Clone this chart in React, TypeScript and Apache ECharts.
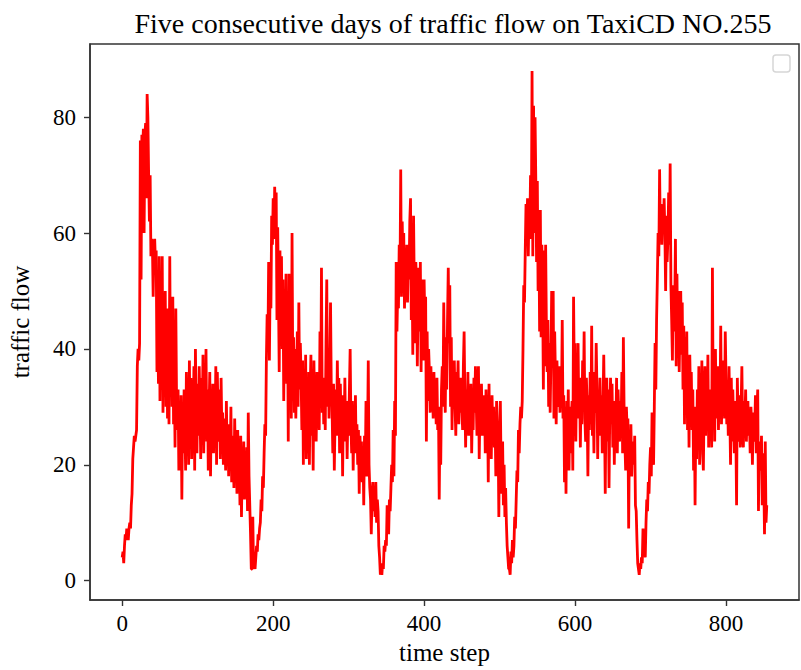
import React, { useEffect, useRef } from "react";
import * as echarts from "echarts";

// traffic flow per time step, one array per day
const day1 = [
  4, 5, 3, 6, 8, 7, 9, 8, 7, 9,
  10, 9, 13, 15, 21, 23, 25, 24, 25, 26,
  37, 40, 38, 41, 76, 52, 77, 74, 78, 60,
  77, 79, 66, 84, 80, 70, 62, 70, 56, 59,
  58, 49, 57, 59, 55, 57, 36, 45, 34, 56,
  31, 48, 40, 56, 29, 44, 35, 50, 30, 47,
  28, 38, 27, 56, 33, 45, 30, 49, 27, 35,
  23, 47, 31, 26, 33, 19, 31, 24, 32, 14,
  30, 22, 33, 27, 19, 36, 25, 33, 20, 38,
  24, 35, 21, 31, 27, 37, 19, 40, 28, 22,
  34, 25, 37, 30, 21, 35, 28, 39, 22, 32,
  26, 40, 24, 33, 19, 29, 36, 18, 31, 25,
  34, 22, 30, 27, 37, 20, 36, 28, 24, 33,
  21, 35, 26, 29, 20, 28, 25, 19, 31, 22,
  27, 18, 26, 21, 30, 17, 25, 23, 16, 28,
  20, 24, 15, 26, 19, 22, 13, 25, 11, 21,
  17, 24, 14, 20, 16, 23, 12, 29, 18, 13,
  8,
];
const day2 = [
  2, 2, 11, 2, 3, 2, 4, 6, 5,
  8, 7, 9, 10, 14, 12, 18, 16, 22, 27,
  25, 38, 46, 40, 55, 38, 52, 47, 63, 58,
  66, 59, 68, 62, 67, 45, 61, 50, 36, 57,
  44, 56, 40, 52, 31, 46, 38, 53, 34, 47,
  24, 53, 37, 45, 28, 60, 35, 42, 29, 40,
  28, 36, 43, 30, 48, 33, 41, 35, 26, 38,
  20, 34, 25, 39, 21, 31, 22, 36, 20, 33,
  39, 25, 31, 19, 38, 27, 32, 24, 36, 28,
  30, 26, 43, 31, 54, 29, 35, 27, 33, 26,
  41, 52, 30, 40, 28, 37, 48, 33, 30, 22,
  34, 19, 28, 33, 25, 38, 29, 35, 22, 34,
  27, 32, 18, 30, 26, 35, 24, 31, 21, 29,
  25, 33, 40, 27, 22, 31, 19, 28, 24, 32,
  22, 27, 20, 26, 15, 25, 21, 24, 17, 23,
  13, 25, 19, 31, 18, 24, 38, 20, 16, 14,
  8, 15, 17, 12, 16, 11, 17, 10, 14, 12, 6, 4,
];
const day3 = [
  1, 2, 1, 3, 2, 6, 5, 7,
  6, 13, 10, 8, 14, 12, 16, 20, 17, 26,
  18, 31, 25, 55, 43, 50, 47, 58, 52, 71,
  49, 62, 53, 60, 47, 54, 49, 58, 48, 55,
  52, 62, 66, 45, 55, 39, 63, 50, 41, 55,
  51, 37, 48, 54, 43, 55, 36, 52, 47, 38,
  52, 44, 49, 24, 43, 31, 40, 36, 29, 37,
  31, 34, 28, 36, 30, 33, 27, 35, 26, 30,
  14, 28, 20, 33, 37, 30, 48, 36, 29, 42,
  33, 45, 54, 41, 51, 30, 42, 26, 37, 33,
  38, 30, 25, 36, 32, 38, 27, 34, 29, 35,
  30, 26, 37, 43, 31, 23, 33, 28, 36, 25,
  31, 27, 34, 22, 30, 26, 35, 29, 37, 31,
  25, 33, 37, 21, 30, 27, 34, 25, 31, 28,
  32, 22, 33, 26, 30, 17, 34, 23, 29, 21,
  32, 25, 30, 23, 28, 18, 31, 22, 26, 11,
  27, 31, 19, 15, 24, 13, 20, 11, 16, 10,
  6, 4, 2,
];
const day4 = [
  2, 1, 5, 3, 7, 4, 6,
  11, 9, 14, 19, 17, 26, 22, 27, 30, 28,
  31, 40, 51, 48, 57, 65, 60, 66, 56, 64,
  61, 70, 59, 88, 56, 82, 60, 80, 69, 55,
  69, 50, 62, 43, 64, 42, 58, 50, 33, 57,
  37, 58, 44, 36, 45, 30, 41, 29, 38, 50,
  41, 50, 28, 43, 35, 27, 38, 33, 30, 37,
  29, 34, 31, 45, 28, 32, 17, 30, 15, 31,
  24, 33, 19, 30, 22, 28, 31, 19, 49, 35,
  41, 24, 36, 30, 41, 28, 35, 23, 33, 27,
  38, 30, 43, 28, 24, 35, 30, 18, 32, 26,
  36, 27, 44, 25, 31, 22, 36, 29, 41, 33,
  21, 32, 27, 35, 25, 32, 22, 30, 39, 28,
  15, 31, 35, 24, 33, 16, 29, 35, 27, 34,
  23, 31, 20, 30, 26, 35, 22, 33, 28, 24,
  31, 27, 36, 22, 42, 29, 24, 19, 30, 26,
  28, 9, 25, 21, 27, 18, 24, 22, 20, 25,
  13, 12, 7, 3,
];
const day5 = [
  2, 1, 3, 2, 4, 3,
  9, 5, 7, 4, 10, 14, 12, 17, 15, 20,
  23, 18, 29, 21, 20, 30, 41, 33, 45, 52,
  60, 56, 71, 59, 65, 58, 64, 61, 66, 60,
  50, 63, 55, 59, 67, 58, 72, 51, 45, 38,
  51, 43, 47, 59, 37, 53, 40, 50, 36, 45,
  50, 39, 48, 33, 44, 27, 42, 34, 43, 26,
  38, 23, 39, 31, 36, 26, 33, 19, 30, 13,
  28, 21, 33, 24, 37, 20, 31, 26, 38, 22,
  19, 31, 37, 25, 34, 28, 39, 23, 33, 27,
  31, 23, 54, 30, 35, 24, 40, 28, 33, 37,
  26, 35, 30, 44, 27, 34, 30, 38, 28, 43,
  35, 27, 32, 25, 37, 29, 20, 35, 24, 33,
  27, 22, 31, 26, 13, 35, 28, 24, 32, 23,
  30, 37, 26, 23, 31, 28, 33, 24, 29, 31,
  25, 28, 22, 30, 27, 20, 29, 24, 26, 32,
  22, 29, 33, 12, 24, 21, 19, 25, 13, 22,
  18, 8, 24, 10, 13,
];

const xTicks = [0, 200, 400, 600, 800];
const yTicks = [0, 20, 40, 60, 80];

const TITLE = "Five consecutive days of traffic flow on TaxiCD NO.255";
const X_NAME = "time step";
const Y_NAME = "traffic flow";

const FONT = "'Liberation Serif', 'Times New Roman', serif";

export default function App() {
  const ref = useRef<HTMLDivElement>(null);

  useEffect(() => {
    if (!ref.current) return;
    const chart = echarts.init(ref.current, undefined, { renderer: "svg" });
    const flow = [...day1, ...day2, ...day3, ...day4, ...day5];
    const points = flow.map((v, i) => [i, v]);

    const axisLine = {
      show: true,
      onZero: false,
      lineStyle: { color: "#333", width: 1.5 },
    };

    chart.setOption({
      animation: false,
      backgroundColor: "#ffffff",
      title: {
        text: TITLE,
        left: 448,
        top: 4,
        textAlign: "center",
        textStyle: {
          fontFamily: FONT,
          fontSize: 28,
          fontWeight: "normal",
          color: "#000",
        },
      },
      grid: {
        left: 83,
        top: 44,
        right: 2,
        bottom: 68,
        show: true,
        borderColor: "#333",
        borderWidth: 1.5,
        backgroundColor: "transparent",
        containLabel: false,
      },
      xAxis: {
        type: "value",
        min: -42.7,
        max: 896.7,
        name: X_NAME,
        nameLocation: "middle",
        nameGap: 40,
        nameTextStyle: { fontFamily: FONT, fontSize: 25, color: "#000" },
        axisLine,
        splitLine: { show: false },
        axisTick: {
          show: true,
          inside: false,
          length: 6,
          customValues: xTicks,
          lineStyle: { color: "#333", width: 1.4 },
        },
        axisLabel: {
          customValues: xTicks,
          margin: 12,
          fontFamily: FONT,
          fontSize: 23,
          color: "#000",
        },
      },
      yAxis: {
        type: "value",
        min: -3.35,
        max: 92.65,
        name: Y_NAME,
        nameLocation: "middle",
        nameGap: 57,
        nameRotate: 90,
        nameTextStyle: { fontFamily: FONT, fontSize: 25, color: "#000" },
        axisLine,
        splitLine: { show: false },
        axisTick: {
          show: true,
          inside: false,
          length: 6,
          customValues: yTicks,
          lineStyle: { color: "#333", width: 1.4 },
        },
        axisLabel: {
          customValues: yTicks,
          margin: 14,
          fontFamily: FONT,
          fontSize: 23,
          color: "#000",
        },
      },
      graphic: [
        {
          type: "rect",
          shape: { x: 773, y: 55, width: 17, height: 17, r: 3 },
          style: { fill: "#fff", stroke: "#d6d6d6", lineWidth: 1.5 },
          z: 100,
        },
      ],
      series: [
        {
          type: "line",
          data: points,
          showSymbol: false,
          symbol: "none",
          lineStyle: { color: "#ff0000", width: 2.8 },
          itemStyle: { color: "#ff0000" },
          clip: true,
        },
      ],
    });

    return () => chart.dispose();
  }, []);

  return (
    <div
      ref={ref}
      style={{ position: "absolute", left: 0, top: 0, width: 801, height: 670 }}
    />
  );
}
